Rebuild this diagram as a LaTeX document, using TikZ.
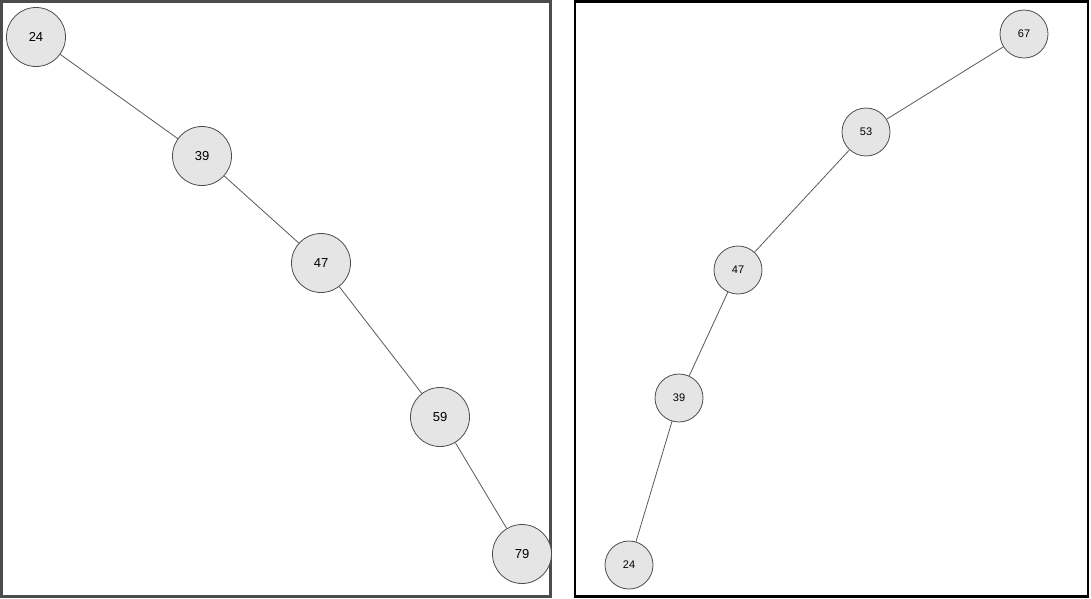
\documentclass[tikz,border=0pt]{standalone}
\usepackage{fontspec}
\setmainfont{Liberation Sans}
\begin{document}
\begin{tikzpicture}[x=1pt,y=-1pt,
  big/.style={circle,draw=black!70,fill=black!10,line width=0.8pt,minimum size=59pt,inner sep=0pt,font=\fontsize{13}{15}\selectfont},
  small/.style={circle,draw=black!70,fill=black!10,line width=0.8pt,minimum size=48pt,inner sep=0pt,font=\fontsize{11}{13}\selectfont},
  edge/.style={draw=black!65,line width=0.8pt}]
\useasboundingbox (0,0) rectangle (1091,598);
\draw[black!70,line width=2.5pt] (1.5,1.5) rectangle (550.5,596.5);
\draw[black,line width=2.5pt] (575,1.5) rectangle (1088,596.5);
\node[big] (a24) at (36,37) {24};
\node[big] (a39) at (202,156) {39};
\node[big] (a47) at (321,263) {47};
\node[big] (a59) at (440,417) {59};
\node[big] (a79) at (522,554) {79};
\draw[edge] (a24)--(a39) (a39)--(a47) (a47)--(a59) (a59)--(a79);
\node[small] (b67) at (1024,34) {67};
\node[small] (b53) at (866,132) {53};
\node[small] (b47) at (738,270) {47};
\node[small] (b39) at (679,398) {39};
\node[small] (b24) at (629,565) {24};
\draw[edge] (b67)--(b53) (b53)--(b47) (b47)--(b39) (b39)--(b24);
\end{tikzpicture}
\end{document}
